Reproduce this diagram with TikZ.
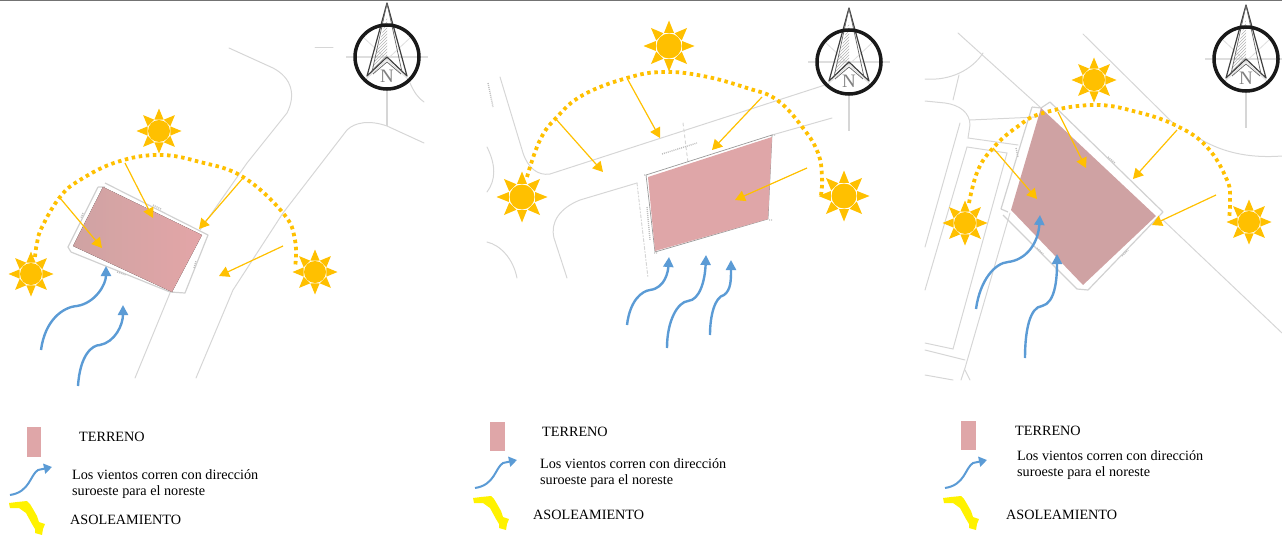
\documentclass[tikz,border=0pt]{standalone}
\usepackage{fontspec}
\setmainfont{Liberation Serif}
\usetikzlibrary{arrows.meta,patterns}
\definecolor{sunc}{HTML}{FFC000}
\definecolor{windc}{HTML}{5B9BD5}
\definecolor{roadc}{HTML}{D6D6D6}
\definecolor{lotc}{HTML}{DFA6A8}
\definecolor{lotl}{HTML}{CFA3A3}
\definecolor{lotr}{HTML}{E3A5A7}
\definecolor{lotd}{HTML}{CFA2A3}
\tikzset{
  road/.style={draw=roadc,line width=1pt,line cap=round},
  lotline/.style={draw=black!18,line width=1.2pt,line join=round},
  sunarc/.style={draw=sunc,line width=3.8pt,dash pattern=on 3.5pt off 3.6pt},
  sunray/.style={draw=sunc,line width=1.2pt,-{Triangle[length=10pt,width=11pt,fill=sunc]}},
  windarrow/.style={draw=windc,line width=2.4pt,-{Triangle[length=10pt,width=10pt,fill=windc]}},
  windkey/.style={draw=windc,line width=2pt,-{Triangle[length=8pt,width=10pt,fill=windc]}},
  keytext/.style={anchor=west,inner sep=0pt,font=\fontsize{14.2}{16}\selectfont,align=left,text=black},
  tinytext/.style={draw=black!25,line width=1.4pt,dash pattern=on 1pt off 1pt},
  sun/.pic={
    \foreach \a in {0,45,...,315}{
      \fill[sunc] (\a:22.5) -- (\a+22:12.3) -- (\a-22:12.3) -- cycle;
    }
    \fill[sunc] (0,0) circle (11);
  },
  bigsun/.pic={
    \foreach \a in {0,45,...,315}{
      \fill[sunc] (\a:25.5) -- (\a+21:14) -- (\a-21:14) -- cycle;
    }
    \fill[sunc] (0,0) circle (12.5);
  },
  sunkey/.pic={
    \fill[yellow] (0,0) -- (8,-1) -- (18,-2) -- (21,1) -- (24,6) -- (28,13) -- (30,19) -- (36,21) -- (34,26) -- (33,32) -- (26,30) -- (26,26) -- (23,21) -- (17,10) -- (10,5) -- (1,5) -- cycle;
  },
  compass/.pic={
    \draw[black!13,line width=1.2pt] (-41,0) -- (41,0);
    \draw[black!13,line width=.8pt] (-24,-20) -- (24,25);
    \draw[black!13,line width=.8pt] (24,-20) -- (-24,25);
    \draw[roadc,line width=1.8pt] (0,32) -- (0,69);
    \fill[pattern=north east lines,pattern color=black!30] (0,-40) -- (-16,15) -- (0,0) -- cycle;
    \node[inner sep=0pt,text=black!50,font=\fontsize{19}{19}\selectfont] at (0,19) {N};
    \draw[black!75,line width=1.2pt,line join=round] (0,-54) -- (-20,19) -- (0,0) -- (20,19) -- cycle;
    \draw[black!60,line width=.7pt] (0,-54) -- (-15,15) (0,-54) -- (15,15) (-14,17) -- (0,5) -- (14,17);
    \draw[black!90,line width=3.5pt] (0,0) circle (32);
  }
}
\begin{document}
\begin{tikzpicture}[x=1pt,y=-1pt]
\useasboundingbox (0,0) rectangle (1282,535);
\draw[black!55,line width=1pt] (0,0.5) -- (1282,0.5);

% ===== panel 1 =====
\draw[road] (229,48) -- (273,68) .. controls (292,78) and (296,95) .. (287,113) -- (247,163) -- (200,230);
\draw[road] (170,293) -- (135,378);
\draw[road] (424,143) -- (387,126) .. controls (370,120) and (355,122) .. (347,130) -- (283,213) -- (233,290) -- (196,378);
\draw[road] (315,48) -- (333,48);
\draw[road] (410,83) .. controls (414,92) and (418,98) .. (424,102);
\draw[lotline] (98,187) -- (68,247) -- (71,252) (105,183) -- (208,235) -- (185,293) -- (170,292) -- (71,252) (98,187) -- (105,187);
\fill[left color=lotl,right color=lotr] (103,187) -- (202,235) -- (172,292) -- (73,246) -- cycle;
\draw[tinytext] (117,272) -- (126,275) (194,268) -- (196,261) (83,213) -- (81,218) (153,205) -- (161,209);
\draw[sunarc] plot[smooth,tension=.7] coordinates {(35,257) (37,243) (42,227) (60,197) (80,180) (117,162) (159,155) (200,162) (243,177) (283,213) (295,240) (295,268)};
\draw[sunray] (60,198) -- (102,248);
\draw[sunray] (125,163) -- (153,218);
\draw[sunray] (243,178) -- (199,229);
\draw[sunray] (283,246) -- (219,276);
\draw[windarrow] (41,350) .. controls (45,320) and (63,307) .. (77,306) .. controls (95,303) and (106,285) .. (106,266);
\draw[windarrow] (78,386) .. controls (80,355) and (92,345) .. (100,345) .. controls (115,342) and (123,325) .. (123,305);
\pic at (159,131) {sun};
\pic at (31,274) {sun};
\pic at (315,272) {sun};
\pic at (387,57) {compass};

% ===== panel 2 =====
\draw[road] (500,77) -- (523,153) .. controls (528,168) and (538,176) .. (550,174) -- (825,85);
\draw[road] (637,183) -- (580,200) .. controls (560,208) and (550,222) .. (554,238) -- (567,278);
\draw[road] (772,135) -- (832,118);
\draw[road] (487,147) .. controls (496,165) and (496,180) .. (487,192);
\draw[road] (487,242) .. controls (500,245) and (513,258) .. (517,278);
\draw[road,dashed] (683,123) -- (688,163);
\draw[road,dash dot] (637,183) -- (648,278);
\draw[black!40,line width=.7pt] (646,175) -- (772,135) -- (768,219) -- (655,252) -- cycle;
\fill[lotc] (648,177) -- (772,137) -- (768,219) -- (655,251) -- cycle;
\draw[tinytext] (662,154) -- (697,143) (647,207) -- (650,240) (488,83) -- (493,107) (644,175) -- (648,175) (772,135) -- (776,135) (769,220) -- (773,220) (654,253) -- (658,253);
\draw[sunarc] plot[smooth,tension=.7] coordinates {(527,177) (540,140) (557,117) (583,95) (627,78) (663,72) (703,76) (747,88) (777,100) (803,128) (818,153) (822,177) (821,195)};
\draw[sunray] (555,118) -- (603,172);
\draw[sunray] (628,80) -- (660,138);
\draw[sunray] (762,97) -- (712,150);
\draw[sunray] (807,168) -- (735,200);
\draw[windarrow] (627,325) .. controls (630,300) and (642,291) .. (650,290) .. controls (665,288) and (668,272) .. (669,257);
\draw[windarrow] (667,348) .. controls (667,320) and (678,302) .. (688,301) .. controls (700,300) and (705,280) .. (706,255);
\draw[windarrow] (710,335) .. controls (710,315) and (715,297) .. (724,295) .. controls (731,290) and (731,280) .. (731,260);
\pic at (669,46) {bigsun};
\pic at (522,197) {bigsun};
\pic at (844,196) {bigsun};
\pic at (849,62) {compass};

% ===== panel 3 =====
\draw[road] (958,33) -- (1041,108);
\draw[road] (1083,34) -- (1176,126);
\draw[road] (1163,220) -- (1282,333);
\draw[road] (1197,137) .. controls (1225,155) and (1255,158) .. (1282,156);
\draw[road] (925,79) .. controls (950,81) and (972,70) .. (983,53);
\draw[road] (959,75) -- (953,100);
\draw[road] (925,101) -- (945,103) .. controls (960,105) and (970,113) .. (970,125) -- (968,138) -- (1018,145);
\draw[road] (970,120) -- (1037,117);
\draw[road] (960,123) -- (925,247);
\draw[road] (967,147) -- (1007,153) -- (953,349) -- (925,343);
\draw[road] (967,147) -- (925,290);
\draw[road] (1010,213) -- (965,368) -- (961,380);
\draw[road] (965,360) -- (925,350);
\draw[road] (925,375) -- (953,380);
\draw[road] (965,370) -- (970,380);
\draw[lotline] (1032,107) -- (1001,209) -- (1008,212) (1003,215) -- (1077,289) -- (1088,290) -- (1163,212) -- (1050,102) -- (1041,108) -- (1032,107);
\fill[lotd] (1041,108) -- (1156,216) -- (1083,285) -- (1011,210) -- cycle;
\draw[tinytext] (1016,148) -- (1018,157) (1108,157) -- (1115,163) (1037,248) -- (1043,254) (1122,256) -- (1128,250);
\draw[sunarc] plot[smooth,tension=.7] coordinates {(969,203) (978,170) (994,147) (1017,127) (1043,113) (1094,105) (1137,112) (1177,126) (1207,147) (1227,180) (1230,200) (1229,219)};
\draw[sunray] (993,148) -- (1037,199);
\draw[sunray] (1058,112) -- (1086,168);
\draw[sunray] (1177,130) -- (1133,179);
\draw[sunray] (1216,195) -- (1152,225);
\draw[windarrow] (976,309) .. controls (980,280) and (995,263) .. (1008,262) .. controls (1025,260) and (1038,245) .. (1040,215);
\draw[windarrow] (1025,358) .. controls (1025,330) and (1030,307) .. (1042,306) .. controls (1055,303) and (1057,280) .. (1057,254);
\pic at (1094,80) {sun};
\pic at (965,223) {sun};
\pic at (1249,222) {sun};
\pic at (1246,59) {compass};

% ===== keys =====
\fill[lotc] (27,427) rectangle (41,457);
\node[keytext] (t1) at (79,437) {TERRENO};
\draw[windkey] (10,495) .. controls (30,492) and (30,475) .. (38,470) -- (52,467);
\node[keytext] (w1) at (72,484.5) {Los vientos corren con dirección\\suroeste para el noreste};
\pic at (9,503) {sunkey};
\node[keytext] (a1) at (70,520) {ASOLEAMIENTO};

\fill[lotc] (490,422) rectangle (505,451);
\node[keytext] (t2) at (542,431.5) {TERRENO};
\draw[windkey] (475,488) .. controls (495,485) and (495,468) .. (503,463) -- (517,460);
\node[keytext] (w2) at (540,473.5) {Los vientos corren con dirección\\suroeste para el noreste};
\pic at (473,498) {sunkey};
\node[keytext] (a2) at (533,514.5) {ASOLEAMIENTO};

\fill[lotc] (961,421) rectangle (976,450);
\node[keytext] (t3) at (1015,431) {TERRENO};
\draw[windkey] (945,488) .. controls (965,485) and (965,468) .. (973,463) -- (987,460);
\node[keytext] (w3) at (1017,465) {Los vientos corren con dirección\\suroeste para el noreste};
\pic at (943,498) {sunkey};
\node[keytext] (a3) at (1006,515) {ASOLEAMIENTO};
\end{tikzpicture}
\end{document}
